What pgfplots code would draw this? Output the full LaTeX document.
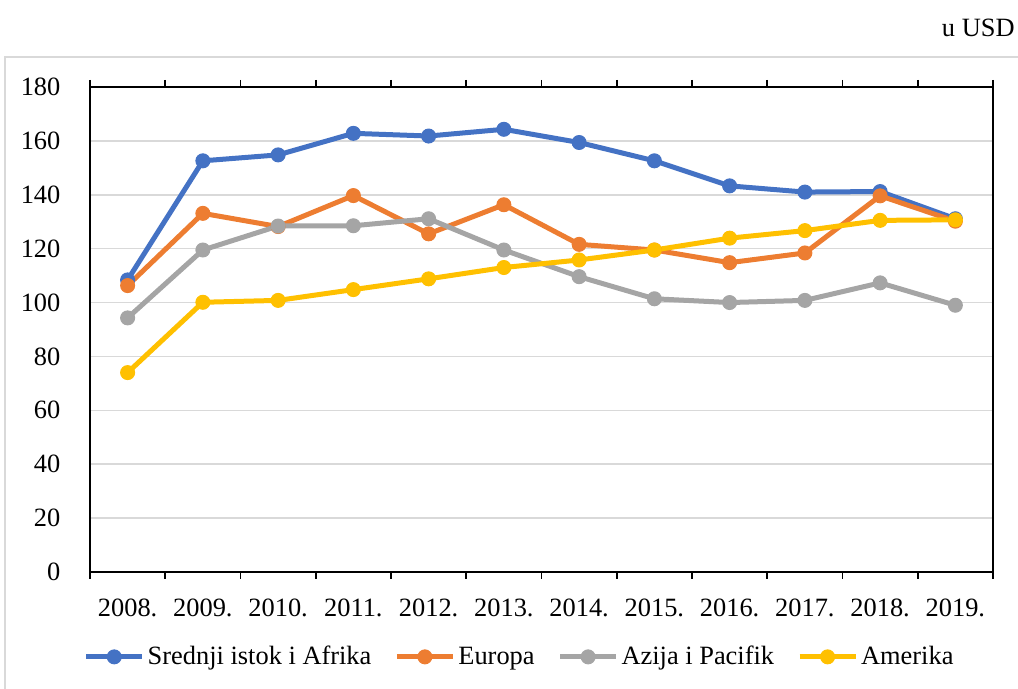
\documentclass[border=0pt]{standalone}
\usepackage{fontspec}
\setmainfont{Liberation Serif}
\usepackage{pgfplots}
\pgfplotsset{compat=1.18}
\definecolor{sblue}{HTML}{4472C4}
\definecolor{sorange}{HTML}{ED7D31}
\definecolor{sgray}{HTML}{A5A5A5}
\definecolor{syellow}{HTML}{FFC000}
\definecolor{gridgray}{HTML}{D9D9D9}

\begin{document}
\begin{tikzpicture}[font=\fontsize{13.2}{15.8}\selectfont]
% page = 1018 x 689 px at 0.5pt per px, axis origin at (90px,572px)
\useasboundingbox (-45pt,-58.5pt) rectangle (464pt,286pt);
\draw[gridgray,line width=0.9pt] (-42.5pt,-80pt) -- (-42.5pt,257.5pt) -- (480pt,257.5pt);
\node[anchor=east,inner sep=0pt] at (462.5pt,272pt) {u USD};
\begin{axis}[
  at={(0,0)}, anchor=south west,
  scale only axis, width=451.5pt, height=242.5pt,
  xmin=-0.5, xmax=11.5, ymin=0, ymax=180,
  axis line style={black,line width=0.9pt},
  xtick={0,...,11},
  xticklabels={2008.,2009.,2010.,2011.,2012.,2013.,2014.,2015.,2016.,2017.,2018.,2019.},
  major x tick style={draw=none},
  minor xtick={-0.5,0.5,...,11.5},
  minor tick length=3.5pt,
  minor x tick style={black,line width=0.8pt},
  tick align=outside,
  xticklabel style={yshift=-5.5pt},
  ytick={0,20,...,180},
  major y tick style={draw=none},
  yticklabel style={xshift=-7pt},
  ymajorgrids, y grid style={gridgray,line width=0.8pt},
  /pgf/number format/assume math mode=true,
  legend columns=4,
  legend style={at={(-0.014,-0.175)}, anchor=west, draw=none, fill=none,
    /tikz/every even column/.append style={column sep=10pt},
    nodes={inner sep=1.5pt}},
  legend cell align=left,
  legend image code/.code={\draw[mark repeat=2,mark phase=2,line width=2.5pt,#1]
    plot coordinates {(0pt,0pt) (14pt,0pt) (28pt,0pt)};},
]
\addplot[sblue, line width=2.5pt, mark=*, mark size=3.5pt, mark options={fill=sblue,line width=0.5pt}] coordinates {
  (0,108.4) (1,152.6) (2,154.8) (3,162.8) (4,161.8) (5,164.3)
  (6,159.4) (7,152.6) (8,143.3) (9,141.0) (10,141.2) (11,131.1)};
\addlegendentry{Srednji istok i Afrika}
\addplot[sorange, line width=2.5pt, mark=*, mark size=3.5pt, mark options={fill=sorange,line width=0.5pt}] coordinates {
  (0,106.3) (1,133.1) (2,128.2) (3,139.7) (4,125.5) (5,136.3)
  (6,121.6) (7,119.5) (8,114.8) (9,118.4) (10,139.6) (11,130.2)};
\addlegendentry{Europa}
\addplot[sgray, line width=2.5pt, mark=*, mark size=3.5pt, mark options={fill=sgray,line width=0.5pt}] coordinates {
  (0,94.3) (1,119.5) (2,128.4) (3,128.5) (4,131.1) (5,119.5)
  (6,109.6) (7,101.4) (8,100.0) (9,100.8) (10,107.3) (11,99.0)};
\addlegendentry{Azija i Pacifik}
\addplot[syellow, line width=2.5pt, mark=*, mark size=3.5pt, mark options={fill=syellow,line width=0.5pt}] coordinates {
  (0,74.0) (1,100.1) (2,100.8) (3,104.8) (4,108.8) (5,113.0)
  (6,115.8) (7,119.5) (8,123.9) (9,126.7) (10,130.5) (11,130.7)};
\addlegendentry{Amerika}
\end{axis}
\end{tikzpicture}
\end{document}
